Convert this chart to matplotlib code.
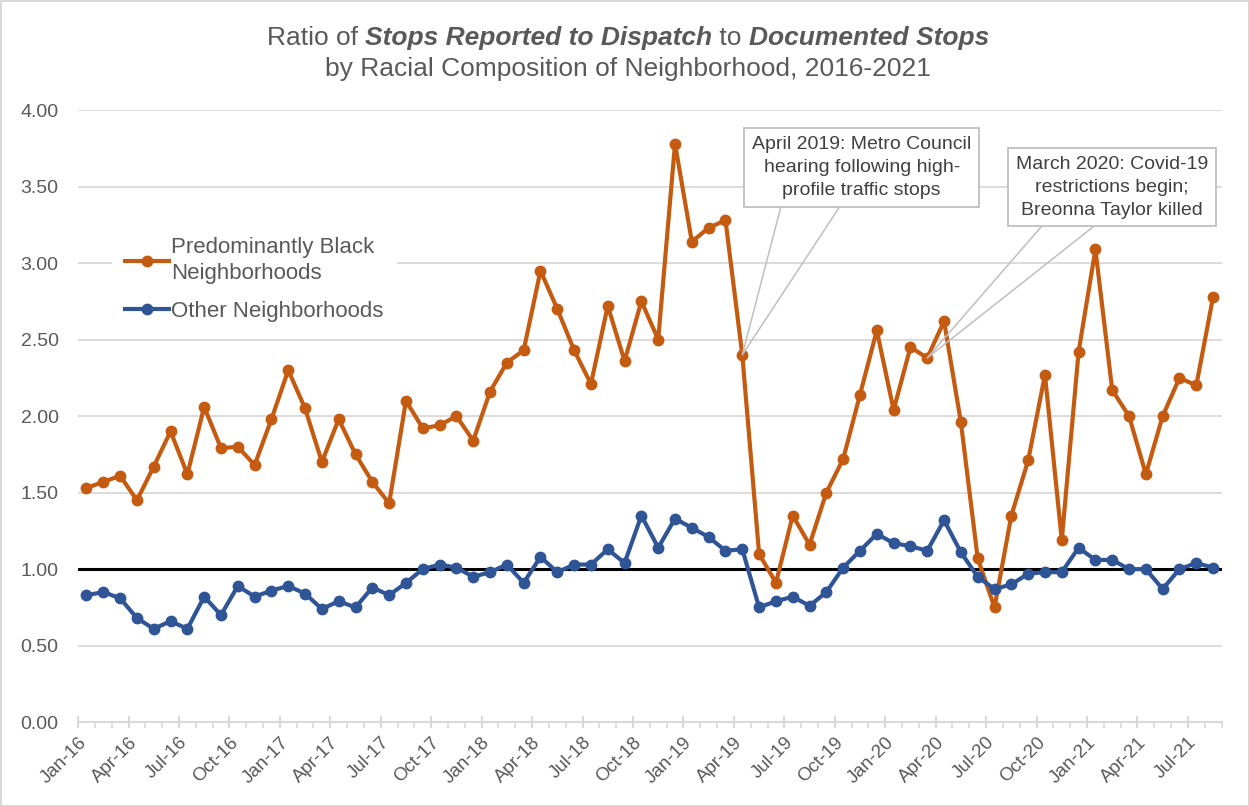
import numpy as np
import matplotlib
matplotlib.use("Agg")
import matplotlib.pyplot as plt
from matplotlib import font_manager

# month labels (every month, Jan-16 .. Aug-21)
month_names = ['Jan', 'Feb', 'Mar', 'Apr', 'May', 'Jun',
               'Jul', 'Aug', 'Sep', 'Oct', 'Nov', 'Dec']
month_labels = [f'{m}-{y:02d}' for y in range(16, 22) for m in month_names][:68]

black_nbhd = [1.53, 1.57, 1.61, 1.45, 1.67, 1.90, 1.62, 2.06, 1.79, 1.80, 1.68, 1.98,
              2.30, 2.05, 1.70, 1.98, 1.75, 1.57, 1.43, 2.10, 1.92, 1.94, 2.00, 1.84,
              2.16, 2.35, 2.43, 2.95, 2.70, 2.43, 2.21, 2.72, 2.36, 2.75, 2.50, 3.78,
              3.14, 3.23, 3.28, 2.40, 1.10, 0.91, 1.35, 1.16, 1.50, 1.72, 2.14, 2.56,
              2.04, 2.45, 2.38, 2.62, 1.96, 1.07, 0.75, 1.35, 1.71, 2.27, 1.19, 2.42,
              3.09, 2.17, 2.00, 1.62, 2.00, 2.25, 2.20, 2.78]

other_nbhd = [0.83, 0.85, 0.81, 0.68, 0.61, 0.66, 0.61, 0.82, 0.70, 0.89, 0.82, 0.86,
              0.89, 0.84, 0.74, 0.79, 0.75, 0.88, 0.83, 0.91, 1.00, 1.03, 1.01, 0.95,
              0.98, 1.03, 0.91, 1.08, 0.98, 1.03, 1.03, 1.13, 1.04, 1.35, 1.14, 1.33,
              1.27, 1.21, 1.12, 1.13, 0.75, 0.79, 0.82, 0.76, 0.85, 1.01, 1.12, 1.23,
              1.17, 1.15, 1.12, 1.32, 1.11, 0.95, 0.87, 0.90, 0.97, 0.98, 0.98, 1.14,
              1.06, 1.06, 1.00, 1.00, 0.87, 1.00, 1.04, 1.01]

notes = [("Apr-19", "April 2019: Metro Council\nhearing following high-\nprofile traffic stops"),
         ("Mar-20", "March 2020: Covid-19\nrestrictions begin;\nBreonna Taylor killed")]

installed = {f.name for f in font_manager.fontManager.ttflist}
narrow = 'Liberation Sans Narrow' if 'Liberation Sans Narrow' in installed else 'Liberation Sans'
plt.rcParams['font.family'] = ['Liberation Sans', 'DejaVu Sans']

ORANGE = '#C55A11'
BLUE = '#2F5597'
GREY = '#595959'


def main():
    fig = plt.figure(figsize=(12.49, 8.06), dpi=100)
    fig.patch.set_edgecolor('#d9d9d9')
    fig.patch.set_linewidth(2)
    ax = fig.add_axes([0.0625, 0.104, 0.9155, 0.7595])

    x = np.arange(len(black_nbhd))
    ax.plot(x, black_nbhd, color=ORANGE, lw=3, marker='o', ms=7.5,
            label='Predominantly Black\nNeighborhoods', zorder=4)
    ax.plot(x, other_nbhd, color=BLUE, lw=3, marker='o', ms=7.5,
            label='Other Neighborhoods', zorder=4)
    ax.axhline(1.0, color='black', lw=2.2, zorder=3)

    ax.set_xlim(-0.5, len(x) - 0.5)
    ax.set_ylim(0, 4)
    ax.set_yticks(np.arange(0, 4.01, 0.5))
    ax.set_yticklabels([f'{v:.2f}' for v in np.arange(0, 4.01, 0.5)])
    ax.set_xticks(np.arange(-0.5, len(x), 3))
    ax.set_xticklabels(month_labels[::3], rotation=45, ha='right', va='top',
                       rotation_mode='anchor')
    ax.set_xticks(np.arange(-0.5, len(x) + 0.5, 1), minor=True)
    ax.tick_params(axis='x', which='major', direction='inout', length=9,
                   color='#d9d9d9', width=1.5, labelsize=13.5, labelcolor=GREY, pad=4)
    ax.tick_params(axis='x', which='minor', direction='out', length=4,
                   color='#d9d9d9', width=1.2)
    ax.tick_params(axis='y', length=0, labelsize=14, labelcolor=GREY, pad=14)
    ax.grid(axis='y', color='#d9d9d9', lw=1.3, zorder=0)
    ax.set_axisbelow(True)
    for s in ['top', 'right', 'left']:
        ax.spines[s].set_visible(False)
    ax.spines['bottom'].set_color('#d9d9d9')
    ax.spines['bottom'].set_linewidth(1.5)

    leg = ax.legend(loc='upper left', bbox_to_anchor=(0.02, 0.832), frameon=True,
                    fontsize=16, handlelength=1.95, handletextpad=0.1,
                    labelspacing=0.75, borderpad=0.6, labelcolor=GREY)
    leg.get_texts()[0].set_linespacing(1.3)
    leg.get_frame().set_edgecolor('none')
    leg.get_frame().set_facecolor('white')
    leg.get_frame().set_alpha(1)
    leg.set_zorder(5)

    # callout boxes: box centre x, text top y (data), leader base x positions
    box_pos = [(46.1, 3.83, 41.3, 44.8), (61.0, 3.70, 56.8, 59.9)]
    for (lab, txt), (bx, by, l1, l2) in zip(notes, box_pos):
        i = month_labels.index(lab)
        yv = black_nbhd[i]
        t = ax.text(bx, by, txt, ha='center', va='top', fontsize=14, color='#404040',
                    family=narrow, linespacing=1.45, zorder=7,
                    bbox=dict(boxstyle='square,pad=0.4', fc='white', ec='#bfbfbf', lw=1.3))
        fig.canvas.draw()
        bb = t.get_bbox_patch().get_window_extent().transformed(ax.transData.inverted())
        base = bb.y0
        ax.plot([l1, i, l2], [base, yv, base], color='#bfbfbf', lw=1.1, zorder=6)

    # title with bold italic pieces
    pieces = [("Ratio of ", 'normal', 'normal'),
              ("Stops Reported to Dispatch", 'bold', 'italic'),
              (" to ", 'normal', 'normal'),
              ("Documented Stops", 'bold', 'italic')]
    renderer = fig.canvas.get_renderer()
    texts = []
    for s, w, st in pieces:
        texts.append(fig.text(0, 0.953, s, fontsize=19, color=GREY, family=narrow,
                              fontweight=w, fontstyle=st, ha='left', va='center'))
    widths = [tt.get_window_extent(renderer).width for tt in texts]
    total = sum(widths)
    start = 628 - total / 2
    for tt, wd in zip(texts, widths):
        tt.set_x(start / fig.bbox.width)
        start += wd
    fig.text(628 / 1249, 0.915, 'by Racial Composition of Neighborhood, 2016-2021',
             fontsize=19, color=GREY, family=narrow, ha='center', va='center')

    fig.savefig('out.png', dpi=100)


if __name__ == "__main__":
    main()
